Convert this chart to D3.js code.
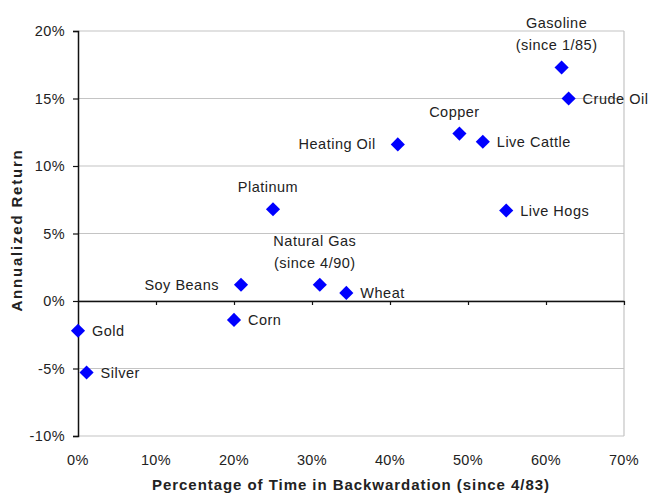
<!DOCTYPE html>
<html>
<head>
<meta charset="utf-8">
<script src="https://cdn.jsdelivr.net/npm/d3@7"></script>
<style>
  body { margin: 0; background: #fff; }
  text { font-family: "Liberation Sans", Arial, sans-serif; fill: #222; }
</style>
</head>
<body>
<div id="chart"></div>
<script>
// commodity names, % of time in backwardation, annualized return (%)
const names = ["Gold", "Silver", "Soy Beans", "Corn", "Natural Gas|(since 4/90)", "Wheat",
  "Platinum", "Heating Oil", "Copper", "Live Cattle", "Live Hogs", "Gasoline|(since 1/85)", "Crude Oil"];
const backwardation = [0, 1.1, 20.9, 20.0, 31.0, 34.4, 25.0, 41.0, 48.9, 51.9, 54.9, 62.0, 62.9];
const returns = [-2.2, -5.3, 1.2, -1.4, 1.2, 0.6, 6.8, 11.6, 12.4, 11.8, 6.7, 17.3, 15.0];
const xTicks = [0, 10, 20, 30, 40, 50, 60, 70];
const yTicks = [-10, -5, 0, 5, 10, 15, 20];

// where each label sits relative to its marker
const labelSide = {
  "Gold": "right", "Silver": "right", "Soy Beans": "left", "Corn": "right",
  "Natural Gas|(since 4/90)": "above", "Wheat": "right", "Platinum": "above",
  "Heating Oil": "left", "Copper": "above", "Live Cattle": "right",
  "Live Hogs": "right", "Gasoline|(since 1/85)": "above", "Crude Oil": "right"
};

const data = names.map((n, i) => ({ name: n, x: backwardation[i], y: returns[i] }));

const width = 651, height = 496;
const margin = { top: 31, right: 27, bottom: 60, left: 78 };

const svg = d3.select("#chart").append("svg")
  .attr("width", width).attr("height", height);

const xScale = d3.scaleLinear().domain([0, 70])
  .range([margin.left, width - margin.right]);
const yScale = d3.scaleLinear().domain([-10, 20])
  .range([height - margin.bottom, margin.top]);

// gridlines
svg.append("g")
  .selectAll("line")
  .data(yTicks)
  .join("line")
  .attr("x1", margin.left).attr("x2", width - margin.right)
  .attr("y1", d => yScale(d)).attr("y2", d => yScale(d))
  .attr("stroke", "#c4c4c4").attr("stroke-width", 1.2);

// right border
svg.append("line")
  .attr("x1", width - margin.right).attr("x2", width - margin.right)
  .attr("y1", margin.top).attr("y2", height - margin.bottom)
  .attr("stroke", "#c4c4c4").attr("stroke-width", 1.2);

// y axis
const yAxis = d3.axisLeft(yScale).tickValues(yTicks)
  .tickFormat(d => d + "%").tickSize(5).tickPadding(8);
const yAxisGroup = svg.append("g")
  .attr("transform", `translate(${margin.left},0)`)
  .call(yAxis);
yAxisGroup.select(".domain").attr("stroke", "#111").attr("stroke-width", 1.5);
yAxisGroup.selectAll(".tick line").attr("stroke", "#111").attr("stroke-width", 1.2);
yAxisGroup.selectAll("text").style("font-size", "14.5px").style("letter-spacing", "0.4px").attr("fill", "#222");

// x axis line through 0%
const xAxis = d3.axisBottom(xScale).tickValues(xTicks.slice(1))
  .tickFormat("").tickSize(4).tickSizeOuter(0);
const xAxisGroup = svg.append("g")
  .attr("transform", `translate(0,${yScale(0)})`)
  .call(xAxis);
xAxisGroup.select(".domain").attr("stroke", "#111").attr("stroke-width", 1.5);
xAxisGroup.selectAll(".tick line").attr("stroke", "#111").attr("stroke-width", 1.2);

// x tick labels at the bottom
svg.append("g")
  .selectAll("text")
  .data(xTicks)
  .join("text")
  .attr("x", d => xScale(d))
  .attr("y", height - margin.bottom + 29)
  .attr("text-anchor", "middle")
  .style("font-size", "14.5px").style("letter-spacing", "0.4px")
  .text(d => d + "%");

// axis titles
svg.append("text")
  .attr("x", (margin.left + width - margin.right) / 2)
  .attr("y", height - 6)
  .attr("text-anchor", "middle")
  .style("font-size", "15px").style("font-weight", "bold").style("letter-spacing", "0.95px")
  .text("Percentage of Time in Backwardation (since 4/83)");

svg.append("text")
  .attr("transform", `translate(22,230) rotate(-90)`)
  .attr("text-anchor", "middle")
  .style("font-size", "15px").style("font-weight", "bold").style("letter-spacing", "1.8px")
  .text("Annualized Return");

// markers
const diamond = d3.symbol().type(d3.symbolSquare).size(100);
svg.append("g")
  .selectAll("path")
  .data(data)
  .join("path")
  .attr("d", diamond)
  .attr("transform", d => `translate(${xScale(d.x)},${yScale(d.y)}) rotate(45)`)
  .attr("fill", "#0000ff");

// labels
const labels = svg.append("g")
  .selectAll("text")
  .data(data)
  .join("text")
  .style("font-size", "14.5px").style("letter-spacing", "0.5px")
  .attr("text-anchor", d => labelSide[d.name] === "left" ? "end" : labelSide[d.name] === "above" ? "middle" : "start")
  .attr("x", d => {
    const s = labelSide[d.name];
    const px = xScale(d.x);
    if (s === "left") return px - 22;
    if (s === "right") return px + 14;
    return px - 5;
  })
  .attr("y", d => {
    const py = yScale(d.y);
    const lines = d.name.split("|").length;
    if (labelSide[d.name] === "above") return py - 17 - (lines - 1) * 22;
    return py + 5;
  });

labels.each(function (d) {
  const parts = d.name.split("|");
  const t = d3.select(this);
  parts.forEach((p, i) => {
    t.append("tspan")
      .attr("x", t.attr("x"))
      .attr("dy", i === 0 ? 0 : 22)
      .text(p);
  });
});
</script>
</body>
</html>
